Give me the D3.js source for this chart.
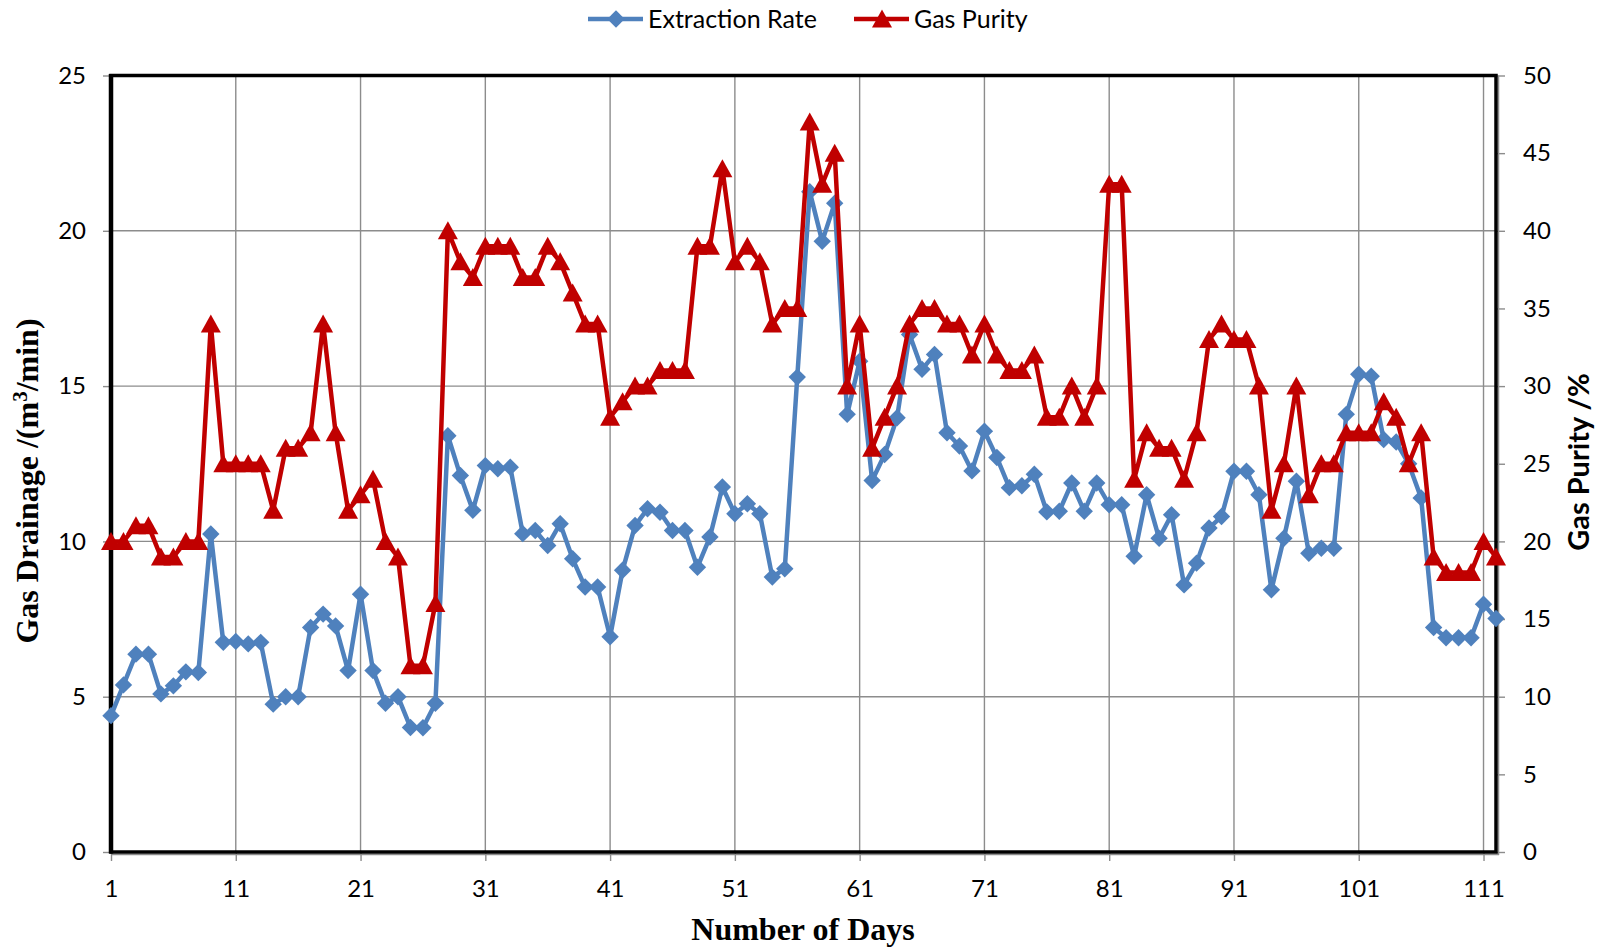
<!DOCTYPE html>
<html>
<head>
<meta charset="utf-8">
<script src="https://cdn.jsdelivr.net/npm/d3@7"></script>
<style>
  body { margin: 0; background: #fff; }
  svg { display: block; }
</style>
</head>
<body>
<div id="chart"></div>
<script>
// day numbers 1..112
const days = d3.range(1, 113);

// Extraction Rate, m3/min (left axis)
const extractionRate = [
  4.39, 5.38, 6.37, 6.37, 5.09, 5.35, 5.8, 5.78, 10.24, 6.75,
  6.78, 6.7, 6.75, 4.76, 5.0, 5.0, 7.23, 7.66, 7.28, 5.84,
  8.3, 5.84, 4.79, 5.0, 4.01, 4.0, 4.79, 13.4, 12.12, 11.0,
  12.44, 12.34, 12.39, 10.25, 10.35, 9.87, 10.57, 9.44, 8.53, 8.53,
  6.93, 9.07, 10.51, 11.05, 10.94, 10.35, 10.35, 9.17, 10.14, 11.75,
  10.89, 11.21, 10.89, 8.85, 9.12, 15.29, 21.26, 19.66, 20.89, 14.09,
  15.8, 11.96, 12.8, 13.98, 16.66, 15.54, 16.02, 13.5, 13.07, 12.27,
  13.55, 12.7, 11.73, 11.79, 12.16, 10.95, 10.97, 11.88, 10.97, 11.88,
  11.18, 11.18, 9.52, 11.5, 10.1, 10.86, 8.6, 9.3, 10.43, 10.8,
  12.26, 12.26, 11.5, 8.44, 10.1, 11.94, 9.62, 9.78, 9.78, 14.09,
  15.38, 15.32, 13.28, 13.2, 12.5, 11.4, 7.23, 6.9, 6.9, 6.9,
  7.98, 7.52
];

// Gas Purity, % (right axis)
const gasPurity = [
  20, 20, 21, 21, 19, 19, 20, 20, 34, 25,
  25, 25, 25, 22, 26, 26, 27, 34, 27, 22,
  23, 24, 20, 19, 12, 12, 16, 40, 38, 37,
  39, 39, 39, 37, 37, 39, 38, 36, 34, 34,
  28, 29, 30, 30, 31, 31, 31, 39, 39, 44,
  38, 39, 38, 34, 35, 35, 47, 43, 45, 30,
  34, 26, 28, 30, 34, 35, 35, 34, 34, 32,
  34, 32, 31, 31, 32, 28, 28, 30, 28, 30,
  43, 43, 24, 27, 26, 26, 24, 27, 33, 34,
  33, 33, 30, 22, 25, 30, 23, 25, 25, 27,
  27, 27, 29, 28, 25, 27, 19, 18, 18, 18,
  20, 19
];

const xTicks = d3.range(1, 112, 10);
const leftTicks = [0, 5, 10, 15, 20, 25];
const rightTicks = [0, 5, 10, 15, 20, 25, 30, 35, 40, 45, 50];

const W = 1601, H = 948;
const plotL = 111, plotR = 1496, plotT = 75.5, plotB = 852;
const blue = "#4f81bd", red = "#c00000", gridCol = "#8c8c8c";
const sansFont = "Lato, 'Open Sans', sans-serif";
const serifFont = "'Liberation Serif', 'DejaVu Serif', serif";

const svg = d3.select("#chart").append("svg")
  .attr("width", W).attr("height", H);

const x = d3.scaleLinear().domain([1, 112]).range([plotL, plotR]);
const yL = d3.scaleLinear().domain([0, 25]).range([plotB, plotT]);
const yR = d3.scaleLinear().domain([0, 50]).range([plotB, plotT]);

// grid
svg.append("g").selectAll("line").data(xTicks).join("line")
  .attr("x1", d => x(d)).attr("x2", d => x(d))
  .attr("y1", plotT).attr("y2", plotB)
  .attr("stroke", gridCol).attr("stroke-width", 1.4);
svg.append("g").selectAll("line").data(leftTicks.slice(1, -1)).join("line")
  .attr("x1", plotL).attr("x2", plotR)
  .attr("y1", d => yL(d)).attr("y2", d => yL(d))
  .attr("stroke", gridCol).attr("stroke-width", 1.4);

// axes
function styleAxis(g) {
  g.select(".domain").remove();
  g.selectAll(".tick line").attr("stroke", gridCol).attr("stroke-width", 1.4);
  g.selectAll(".tick text").attr("fill", "#000")
    .style("font-family", sansFont).style("font-size", "24px");
}
svg.append("g").attr("transform", `translate(0,${plotB})`)
  .call(d3.axisBottom(x).tickValues(xTicks).tickSize(9).tickPadding(19).tickFormat(d3.format("d")))
  .call(styleAxis);
svg.append("g").attr("transform", `translate(${plotL},0)`)
  .call(d3.axisLeft(yL).tickValues(leftTicks).tickSize(8).tickPadding(17))
  .call(styleAxis);
svg.append("g").attr("transform", `translate(${plotR},0)`)
  .call(d3.axisRight(yR).tickValues(rightTicks).tickSize(9).tickPadding(18))
  .call(styleAxis);

// plot frame
svg.append("line").attr("x1", plotL).attr("x2", plotR + 3)
  .attr("y1", plotB + 2.5).attr("y2", plotB + 2.5)
  .attr("stroke", gridCol).attr("stroke-width", 1.5);
svg.append("line").attr("x1", plotR + 2.5).attr("x2", plotR + 2.5)
  .attr("y1", plotT).attr("y2", plotB + 3)
  .attr("stroke", gridCol).attr("stroke-width", 1.5);
svg.append("rect").attr("x", plotL).attr("y", plotT)
  .attr("width", plotR - plotL).attr("height", plotB - plotT)
  .attr("fill", "none").attr("stroke", "#000").attr("stroke-width", 3.5);
svg.append("line").attr("x1", plotL).attr("x2", plotL)
  .attr("y1", plotT - 1.5).attr("y2", plotB + 1.5)
  .attr("stroke", "#000").attr("stroke-width", 4.5);

// series
const diamond = "M0,-8.7L8.7,0L0,8.7L-8.7,0Z";
const triangle = "M0,-9.5L10,8.5L-10,8.5Z";

const lineBlue = d3.line().x((d, i) => x(days[i])).y(d => yL(d));
const lineRed = d3.line().x((d, i) => x(days[i])).y(d => yR(d));

svg.append("path").datum(extractionRate).attr("d", lineBlue)
  .attr("fill", "none").attr("stroke", blue).attr("stroke-width", 4.5)
  .attr("stroke-linejoin", "round");
svg.append("g").selectAll("path").data(extractionRate).join("path")
  .attr("d", diamond)
  .attr("transform", (d, i) => `translate(${x(days[i])},${yL(d)})`)
  .attr("fill", blue);

svg.append("path").datum(gasPurity).attr("d", lineRed)
  .attr("fill", "none").attr("stroke", red).attr("stroke-width", 4.5)
  .attr("stroke-linejoin", "round");
svg.append("g").selectAll("path").data(gasPurity).join("path")
  .attr("d", triangle)
  .attr("transform", (d, i) => `translate(${x(days[i])},${yR(d)})`)
  .attr("fill", red);

// axis titles
svg.append("text").attr("x", 803).attr("y", 940)
  .attr("text-anchor", "middle")
  .style("font-family", serifFont).style("font-weight", "bold").style("font-size", "32px")
  .text("Number of Days");

const yTitle = svg.append("text")
  .attr("transform", "translate(38,481) rotate(-90)")
  .attr("text-anchor", "middle")
  .style("font-family", serifFont).style("font-weight", "bold").style("font-size", "32px");
yTitle.append("tspan").text("Gas Drainage /(m");
yTitle.append("tspan").attr("dy", -11).style("font-size", "21px").text("3");
yTitle.append("tspan").attr("dy", 11).text("/min)");

svg.append("text")
  .attr("transform", "translate(1589,462) rotate(-90)")
  .attr("text-anchor", "middle")
  .style("font-family", sansFont).style("font-weight", "bold").style("font-size", "29px")
  .text("Gas Purity /%");

// legend
const legend = [
  { name: "Extraction Rate", color: blue, shape: diamond, x0: 588 },
  { name: "Gas Purity", color: red, shape: triangle, x0: 854 }
];
const lg = svg.append("g").selectAll("g").data(legend).join("g")
  .attr("transform", d => `translate(${d.x0},19)`);
lg.append("line").attr("x1", 0).attr("x2", 55)
  .attr("stroke", d => d.color).attr("stroke-width", 4.5);
lg.append("path").attr("d", d => d.shape)
  .attr("transform", "translate(28,0)").attr("fill", d => d.color);
lg.append("text").attr("x", 60).attr("dy", "0.35em")
  .style("font-family", sansFont).style("font-size", "25px")
  .text(d => d.name);
</script>
</body>
</html>
